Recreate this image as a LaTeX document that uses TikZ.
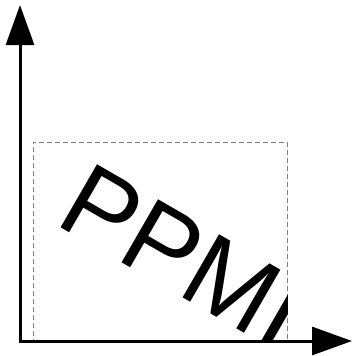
\documentclass[tikz,border=0pt]{standalone}
\usepackage{fontspec}
\setmainfont{Liberation Sans}
\usetikzlibrary{arrows.meta}

\begin{document}
\begin{tikzpicture}[
  x=1pt, y=-1pt,
  axis/.style  = {line width=3pt, -{Triangle[length=40pt,width=28pt]}},
  frame/.style = {draw=gray, line width=0.8pt, dash pattern=on 5pt off 3pt},
  word/.style  = {anchor=base west, inner sep=0pt, rotate=-30,
                  font=\fontsize{106}{106}\selectfont}
]
\useasboundingbox (0,0) rectangle (352,356);

% Axes
\coordinate (orig) at (20,341);
\coordinate (xend) at (352,341);
\coordinate (yend) at (20,5);

% Clipped box with rotated text
\node[frame, minimum width=254pt, minimum height=199pt, inner sep=0pt,
      anchor=north west] (box) at (33,142) {};
\begin{scope}
  \clip (box.north west) rectangle (box.south east);
  \node[word] (txt) at (53,223) {PPMI};
\end{scope}

\draw[axis] ([xshift=-1.5pt]orig) -- (xend);
\draw[axis] ([yshift=1.5pt]orig) -- (yend);
\end{tikzpicture}
\end{document}
